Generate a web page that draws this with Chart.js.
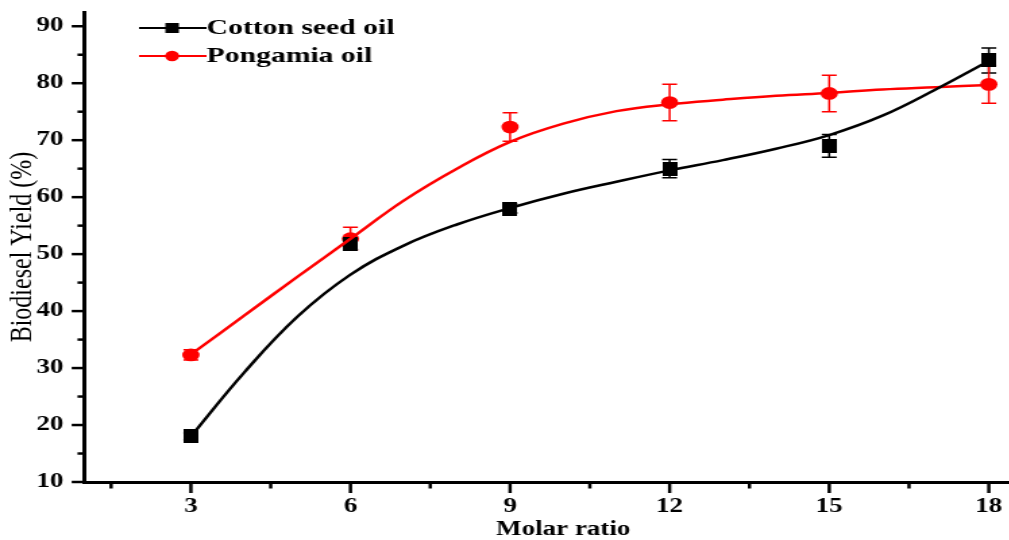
<!DOCTYPE html>
<html>
<head>
<meta charset="utf-8">
<script src="https://cdn.jsdelivr.net/npm/chart.js@4.4.0/dist/chart.umd.min.js"></script>
<style>
  html, body { margin: 0; padding: 0; background: #fff; overflow: hidden; }
  #chart { display: block; }
</style>
</head>
<body>
<!-- the source figure is stretched sideways, so the canvas is drawn narrow and widened by css -->
<canvas id="chart" width="772" height="540" style="width:1042px;height:540px"></canvas>
<script>
const molarRatio = [3, 6, 9, 12, 15, 18]
const cottonYield = [18.0, 51.8, 58.0, 65.0, 69.0, 84.0]
const cottonErr = [0.6, 1.0, 0.8, 1.6, 2.0, 2.2]
const pongamiaYield = [32.3, 52.7, 72.3, 76.6, 78.2, 79.8]
const pongamiaErr = [0.9, 2.0, 2.5, 3.2, 3.2, 3.3]

// fitted curves
const fitX = [3, 4, 5, 6, 7, 8, 9, 10, 11, 12, 13, 14, 15, 16, 17, 18]
const cottonFit = [18.0, 29.2, 39.0, 46.4, 51.5, 55.2, 58.1, 60.6, 62.7, 64.7, 66.5, 68.5, 70.9, 74.3, 78.9, 83.9]
const pongamiaFit = [32.4, 39.2, 46.0, 52.7, 59.4, 65.0, 69.7, 72.9, 75.1, 76.3, 77.1, 77.8, 78.3, 78.9, 79.3, 79.7]

const xTicks = [1.5, 3, 4.5, 6, 7.5, 9, 10.5, 12, 13.5, 15, 16.5, 18]
const yTicks = [10, 15, 20, 25, 30, 35, 40, 45, 50, 55, 60, 65, 70, 75, 80, 85, 90]

const seriesNames = ['Cotton seed oil', 'Pongamia oil']
const seriesColors = ['#000000', '#ff0000']

const toPoints = (xs, ys) => xs.map((x, i) => ({ x: x, y: ys[i] }))

// narrow square so it looks square after the css stretch
const squareMark = document.createElement('canvas')
squareMark.width = 11
squareMark.height = 14
const sq = squareMark.getContext('2d')
sq.fillStyle = '#000'
sq.fillRect(0, 0, 11, 14)

const serif = "'Liberation Serif', 'Times New Roman', serif"

const extras = {
  id: 'extras',
  beforeDatasetsDraw(chart) {
    const ctx = chart.ctx
    const xs = chart.scales.x
    const ys = chart.scales.y
    const sets = [[cottonYield, cottonErr], [pongamiaYield, pongamiaErr]]
    ctx.save()
    ctx.lineWidth = 1.5
    sets.forEach(([vals, errs], k) => {
      ctx.strokeStyle = seriesColors[k]
      molarRatio.forEach((m, i) => {
        const px = xs.getPixelForValue(m)
        const top = ys.getPixelForValue(vals[i] + errs[i])
        const bot = ys.getPixelForValue(vals[i] - errs[i])
        ctx.beginPath()
        ctx.moveTo(px, top); ctx.lineTo(px, bot)
        ctx.moveTo(px - 5.5, top); ctx.lineTo(px + 5.5, top)
        ctx.moveTo(px - 5.5, bot); ctx.lineTo(px + 5.5, bot)
        ctx.stroke()
      })
    })
    ctx.restore()
  },
  afterDraw(chart) {
    const ctx = chart.ctx
    const xs = chart.scales.x
    const ys = chart.scales.y
    const area = chart.chartArea
    ctx.save()
    ctx.strokeStyle = '#000'
    // x ticks, outward
    ctx.lineWidth = 2.5
    xTicks.forEach(v => {
      const px = xs.getPixelForValue(v)
      const len = v % 3 === 0 ? 11 : 6.5
      ctx.beginPath()
      ctx.moveTo(px, area.bottom); ctx.lineTo(px, area.bottom + len)
      ctx.stroke()
    })
    // y ticks, outward
    ctx.lineWidth = 2.5
    yTicks.forEach(v => {
      const py = ys.getPixelForValue(v)
      const len = v % 10 === 0 ? 9.5 : 5.2
      ctx.beginPath()
      ctx.moveTo(area.left, py); ctx.lineTo(area.left - len, py)
      ctx.stroke()
    })
    // legend
    const rows = [28, 56]
    ctx.font = 'bold 22px ' + serif
    ctx.textBaseline = 'middle'
    ctx.textAlign = 'left'
    rows.forEach((ry, k) => {
      ctx.strokeStyle = seriesColors[k]
      ctx.fillStyle = seriesColors[k]
      ctx.lineWidth = 2
      ctx.beginPath()
      ctx.moveTo(103, ry); ctx.lineTo(153, ry)
      ctx.stroke()
      if (k === 0) {
        ctx.fillRect(127.5 - 5, ry - 5, 10, 10)
      } else {
        ctx.beginPath()
        ctx.arc(127.5, ry, 5.2, 0, Math.PI * 2)
        ctx.fill()
      }
      ctx.fillStyle = '#000'
      ctx.fillText(seriesNames[k], 153, ry)
    })
    ctx.restore()
  }
}

new Chart(document.getElementById('chart'), {
  type: 'scatter',
  data: {
    datasets: [
      {
        label: seriesNames[0] + ' fit',
        data: toPoints(fitX, cottonFit),
        showLine: true,
        borderColor: seriesColors[0],
        borderWidth: 2.5,
        pointRadius: 0,
        tension: 0.4
      },
      {
        label: seriesNames[1] + ' fit',
        data: toPoints(fitX, pongamiaFit),
        showLine: true,
        borderColor: seriesColors[1],
        borderWidth: 2.5,
        pointRadius: 0,
        tension: 0.4
      },
      {
        label: seriesNames[0],
        data: toPoints(molarRatio, cottonYield),
        pointStyle: squareMark,
        pointRadius: 7,
        backgroundColor: seriesColors[0],
        borderColor: seriesColors[0]
      },
      {
        label: seriesNames[1],
        data: toPoints(molarRatio, pongamiaYield),
        pointStyle: 'circle',
        pointRadius: 6.4,
        borderWidth: 0,
        backgroundColor: seriesColors[1],
        borderColor: seriesColors[1]
      }
    ]
  },
  options: {
    responsive: false,
    devicePixelRatio: 1,
    animation: false,
    layout: { autoPadding: false, padding: { top: 12, left: 0, right: 0, bottom: 0 } },
    plugins: {
      legend: { display: false },
      tooltip: { enabled: false }
    },
    scales: {
      x: {
        type: 'linear',
        min: 1,
        max: 19,
        grid: { display: false, drawTicks: false },
        border: { display: true, color: '#000', width: 3 },
        afterBuildTicks: s => { s.ticks = xTicks.map(v => ({ value: v })) },
        afterFit: s => { s.height = 58 },
        ticks: {
          autoSkip: false,
          maxRotation: 0,
          padding: 12.5,
          color: '#000',
          font: { family: serif, size: 20, weight: 'bold' },
          callback: v => (v % 3 === 0 ? v : '')
        },
        title: {
          display: true,
          text: 'Molar ratio',
          color: '#000',
          font: { family: serif, size: 20, weight: 'bold', lineHeight: 1 },
          padding: { top: 0, bottom: 0 }
        }
      },
      y: {
        min: 10,
        max: 92.5,
        grid: { display: false, drawTicks: false },
        border: { display: true, color: '#000', width: 3 },
        afterBuildTicks: s => { s.ticks = yTicks.map(v => ({ value: v })) },
        afterFit: s => {
          s.width = 62.6
          s.paddingTop = 0
          s.paddingBottom = 0
        },
        ticks: {
          autoSkip: false,
          padding: 15.5,
          color: '#000',
          font: { family: serif, size: 20, weight: 'bold' },
          callback: v => (v % 10 === 0 ? v : '')
        },
        title: {
          display: true,
          text: 'Biodiesel Yield (%)',
          color: '#000',
          font: { family: serif, size: 24, weight: 'normal', lineHeight: 1 },
          padding: { top: 5, bottom: 0 }
        }
      }
    }
  },
  plugins: [extras]
})
</script>
</body>
</html>
